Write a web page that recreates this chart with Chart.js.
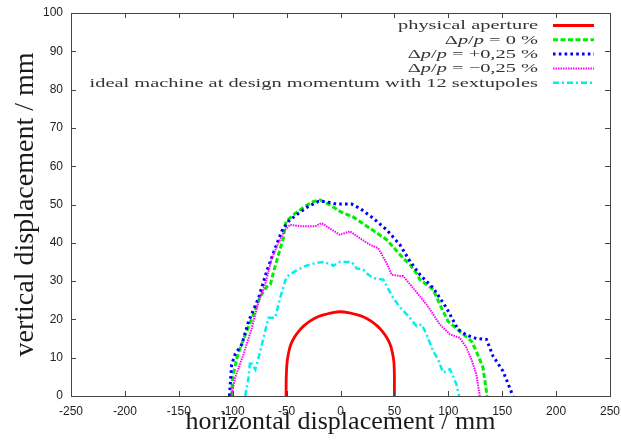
<!DOCTYPE html>
<html>
<head>
<meta charset="utf-8">
<script src="https://cdn.jsdelivr.net/npm/chart.js@4.4.0/dist/chart.umd.min.js"></script>
<style>
  html, body { margin: 0; padding: 0; background: #ffffff; }
  #wrap { width: 621px; height: 443px; }
</style>
</head>
<body>
<div id="wrap"><canvas id="c" width="621" height="443"></canvas></div>
<script>
// Dynamic aperture boundaries (mm)
const seriesLabels = [
  'physical aperture',
  'Δp/p = 0 %',
  'Δp/p = +0,25 %',
  'Δp/p = −0,25 %',
  'ideal machine at design momentum with 12 sextupoles'
];

const apertureX = [-50.5, -50.3, -49.5, -48, -46, -43, -39, -34, -28, -21, -14, -7, 0, 7, 14, 21, 28, 34, 39, 43, 46, 48, 49.5, 50, 50];
const apertureY = [0, 5, 9, 11.5, 13.5, 15.2, 16.8, 18.3, 19.6, 20.7, 21.3, 21.8, 22, 21.8, 21.3, 20.7, 19.6, 18.3, 16.8, 15.2, 13.5, 11.5, 9, 5, 0];

const nominalX = [-101, -100, -96, -93, -89, -82, -74.5, -68, -65, -62, -57.6, -53, -51.4, -50, -42, -33, -25, -19, -9.7, -0.5, 11.9, 27.3, 42.8, 58.1, 64.4, 70.6, 73.6, 86, 92.1, 99.8, 110.6, 121.5, 126, 132.2, 136];
const nominalY = [0, 5, 10, 12.6, 15.5, 20.4, 26, 28.6, 29.2, 32.5, 36.9, 41.2, 44.7, 45.7, 47.7, 49.5, 50.8, 51.2, 49.9, 48.2, 46.7, 43.8, 40.8, 36, 34.3, 32, 30.4, 27.8, 23.9, 19.5, 16.9, 14.3, 11.7, 7.4, 0];

const plusX = [-103, -101, -97.7, -91.5, -85.3, -76, -68.4, -60.6, -54.5, -48.3, -39, -29.8, -20.5, -14.4, -9.7, -3.5, 10.4, 18, 30.4, 42.8, 55.1, 64.4, 73.6, 86, 98.3, 109, 116.9, 126, 135.4, 141.5, 150.7, 160];
const plusY = [0, 8.2, 10.9, 13.5, 19.5, 25.6, 32.6, 38.6, 43, 45.6, 47.7, 49.5, 50.8, 50.8, 50.5, 50.1, 50.1, 49, 46.4, 43.4, 39.5, 35.2, 31.7, 28.2, 23, 17.4, 15.9, 15, 14.8, 10.4, 6.5, 0];

const minusX = [-101.4, -97.7, -90, -82.2, -76, -70, -63.7, -57.6, -51.4, -46.8, -36, -23.6, -18, -15.9, -8.1, -0.5, 8.8, 18, 27.3, 35, 42.8, 47.4, 55, 58.1, 67.4, 79.8, 92.1, 101.4, 110.6, 116.9, 121.5, 126.1, 129.2];
const minusY = [0, 4.8, 10.9, 17.8, 24.7, 29, 36, 40, 43.4, 44.7, 44.3, 44.3, 45.1, 44.9, 43.4, 42.1, 43, 41.2, 39.5, 38.6, 34.7, 31.7, 31.3, 31.3, 28.2, 23.9, 18.7, 16.1, 15.2, 12.6, 9.5, 5.6, 0];

const idealX = [-88.4, -85.3, -83.8, -79, -74.5, -66.8, -60.6, -56, -51.4, -49.8, -42.1, -32.9, -23.6, -15.9, -8.1, -6.7, -0.5, 10.4, 15, 21.1, 25.7, 30.4, 39.6, 48.9, 55, 64.4, 70.6, 75.2, 79.8, 86, 90.6, 95.2, 101.4, 104.4, 107.6, 110];
const idealY = [0, 4.8, 9.1, 6.9, 11.7, 20.4, 20.4, 25.6, 29.9, 31.2, 32.6, 33.9, 34.7, 35, 34.3, 34, 35, 35, 33.3, 33, 31.7, 30.8, 30.4, 25.6, 23.2, 20.4, 18.2, 18.7, 16.1, 11.7, 9.5, 6.1, 7, 5.2, 3, 0];

const xTicks = [-250, -200, -150, -100, -50, 0, 50, 100, 150, 200, 250];
const yTicks = [0, 10, 20, 30, 40, 50, 60, 70, 80, 90, 100];

const toPoints = (xs, ys) => xs.map((x, i) => ({ x: x, y: ys[i] }));

const styles = [
  { color: '#ff0000', width: 2.8, dash: [], tension: 0.35 },
  { color: '#00ee00', width: 3, dash: [5, 2.5], tension: 0 },
  { color: '#0000ff', width: 3, dash: [2.6, 3.2], tension: 0 },
  { color: '#ff00ff', width: 2, dash: [1.5, 1], tension: 0 },
  { color: '#00f0f0', width: 2.5, dash: [6, 3, 2, 3], tension: 0 }
];

const seriesData = [
  toPoints(apertureX, apertureY),
  toPoints(nominalX, nominalY),
  toPoints(plusX, plusY),
  toPoints(minusX, minusY),
  toPoints(idealX, idealY)
];

const datasets = seriesData.map((d, i) => ({
  label: seriesLabels[i],
  data: d,
  showLine: true,
  pointRadius: 0,
  pointHoverRadius: 0,
  borderColor: styles[i].color,
  backgroundColor: styles[i].color,
  borderWidth: styles[i].width,
  borderDash: styles[i].dash,
  tension: styles[i].tension,
  fill: false,
  order: 5 - i
}));

// Frame with inward tick marks on all four sides
const framePlugin = {
  id: 'frame',
  afterDatasetsDraw(chart) {
    const { ctx, chartArea: a, scales } = chart;
    ctx.save();
    ctx.strokeStyle = '#444';
    ctx.lineWidth = 1;
    ctx.setLineDash([]);
    ctx.strokeRect(Math.round(a.left) + 0.5, Math.round(a.top) + 0.5,
      Math.round(a.right - a.left), Math.round(a.bottom - a.top));
    const len = 5;
    ctx.beginPath();
    xTicks.forEach(v => {
      const px = Math.round(scales.x.getPixelForValue(v)) + 0.5;
      ctx.moveTo(px, a.bottom); ctx.lineTo(px, a.bottom - len);
      ctx.moveTo(px, a.top); ctx.lineTo(px, a.top + len);
    });
    yTicks.forEach(v => {
      const py = Math.round(scales.y.getPixelForValue(v)) + 0.5;
      ctx.moveTo(a.left, py); ctx.lineTo(a.left + len, py);
      ctx.moveTo(a.right, py); ctx.lineTo(a.right - len, py);
    });
    ctx.stroke();
    ctx.restore();
  }
};

// Key: right-aligned serif labels with line samples to their right
function labelSegments(label) {
  if (label.startsWith('Δp/p')) {
    return [['Δ', false], ['p', true], ['/', false], ['p', true], [label.slice(4), false]];
  }
  return [[label, false]];
}

const keyPlugin = {
  id: 'key',
  afterDraw(chart) {
    const { ctx, chartArea: a } = chart;
    const size = 12.5;
    const family = '"Liberation Serif", "Times New Roman", serif';
    const fontN = size + 'px ' + family;
    const fontI = 'italic ' + size + 'px ' + family;
    ctx.save();
    ctx.font = fontN;
    const sx = 140 / ctx.measureText(seriesLabels[0]).width;
    const textRight = a.right - 72;
    const sampleL = a.right - 57;
    const sampleR = a.right - 16;
    chart.data.datasets.forEach((ds, i) => {
      const y = a.top + 12.5 + i * 14.3;
      const segs = labelSegments(ds.label);
      let total = 0;
      segs.forEach(s => { ctx.font = s[1] ? fontI : fontN; total += ctx.measureText(s[0]).width; });
      ctx.save();
      ctx.translate(textRight, y + 3.8);
      ctx.scale(sx, 1);
      ctx.fillStyle = '#333';
      ctx.textBaseline = 'alphabetic';
      ctx.textAlign = 'left';
      let cx = -total;
      segs.forEach(s => {
        ctx.font = s[1] ? fontI : fontN;
        ctx.fillText(s[0], cx, 0);
        cx += ctx.measureText(s[0]).width;
      });
      ctx.restore();
      ctx.beginPath();
      ctx.strokeStyle = ds.borderColor;
      ctx.lineWidth = ds.borderWidth;
      ctx.setLineDash(ds.borderDash || []);
      ctx.moveTo(sampleL, y);
      ctx.lineTo(sampleR, y);
      ctx.stroke();
    });
    ctx.restore();
  }
};

const tickFont = { family: '"Liberation Sans", Arial, sans-serif', size: 12 };
const serif = '"Liberation Serif", "Times New Roman", serif';

new Chart(document.getElementById('c'), {
  type: 'scatter',
  data: { datasets: datasets },
  options: {
    responsive: false,
    devicePixelRatio: 1,
    animation: false,
    layout: { padding: { top: 13, right: 11, left: 0, bottom: 0 } },
    plugins: {
      legend: { display: false },
      tooltip: { enabled: false }
    },
    scales: {
      x: {
        type: 'linear',
        min: -250, max: 250,
        afterBuildTicks: s => { s.ticks = xTicks.map(v => ({ value: v })); },
        afterFit: s => { s.height = 47; s.paddingLeft = 0; s.paddingRight = 0; },
        grid: { display: false, drawTicks: false },
        border: { display: false },
        ticks: { font: tickFont, color: '#222', padding: 8, maxRotation: 0, autoSkip: false },
        title: { display: true, text: 'horizontal displacement / mm', font: { family: serif, size: 26 }, color: '#1a1a1a', padding: { top: 0, bottom: 5 } }
      },
      y: {
        type: 'linear',
        min: 0, max: 100,
        afterBuildTicks: s => { s.ticks = yTicks.map(v => ({ value: v })); },
        afterFit: s => { s.width = 71; s.paddingTop = 0; s.paddingBottom = 0; },
        grid: { display: false, drawTicks: false },
        border: { display: false },
        ticks: { font: tickFont, color: '#222', padding: 8, autoSkip: false },
        title: { display: true, text: 'vertical displacement / mm', font: { family: serif, size: 28 }, color: '#1a1a1a', padding: { top: 9, bottom: 0 } }
      }
    }
  },
  plugins: [framePlugin, keyPlugin]
});
</script>
</body>
</html>
